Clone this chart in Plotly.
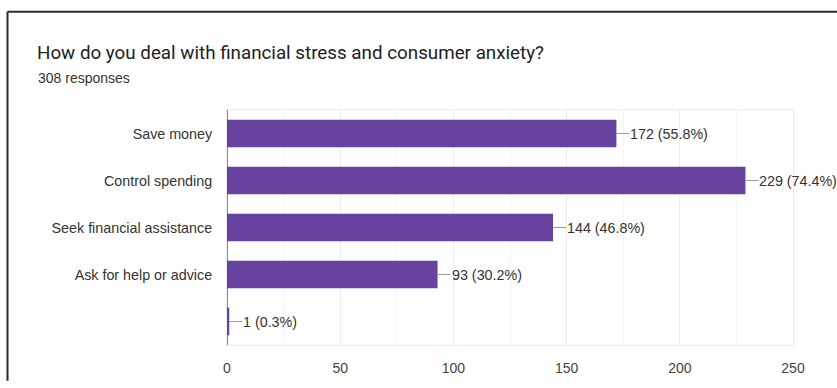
import plotly.graph_objects as go

# Survey answers (horizontal bars, top to bottom)
categories = ["Save money", "Control spending", "Seek financial assistance",
              "Ask for help or advice", ""]
counts = [172, 229, 144, 93, 1]
total_responses = 308
x_ticks = [0, 50, 100, 150, 200, 250]

title_text = "How do you deal with financial stress and consumer anxiety?"
subtitle_text = f"{total_responses} responses"

W, H = 837, 388
ML, MR, MT, MB = 227, 44, 110, 35
PW, PH = W - ML - MR, H - MT - MB

def px_x(px):
    return (px - ML) / PW

def px_y(py):
    return (H - MB - py) / PH

idx = list(range(len(categories)))
bar_color = "#67439f"
label_font = "Liberation Sans, Arial, sans-serif"

fig = go.Figure(go.Bar(
    x=counts, y=idx, orientation="h",
    marker=dict(color=bar_color, line=dict(width=0)),
    hoverinfo="skip",
))

# value labels with a short leader line from the bar end
annotations = []
for i, c in zip(idx, counts):
    pct = c / total_responses * 100
    annotations.append(dict(
        x=c, y=i, xref="x", yref="y",
        text=f"{c} ({pct:.1f}%)",
        showarrow=True, arrowhead=0, arrowwidth=1, arrowcolor="#9a9a9a",
        ax=13, ay=0, xanchor="left", yanchor="middle",
        borderpad=0, standoff=0,
        font=dict(family=label_font, size=14.3, color="#333333"),
    ))

annotations.append(dict(
    x=px_x(36), y=px_y(77), xref="paper", yref="paper",
    text=subtitle_text, showarrow=False, xanchor="left", yanchor="middle",
    font=dict(family=label_font, size=14, color="#333333"),
))

# frame lines on the top and left of the card
shapes = [
    dict(type="line", xref="paper", yref="paper",
         x0=px_x(7.5), x1=px_x(W + 2), y0=px_y(8.5), y1=px_y(8.5),
         line=dict(color="#2a2a2a", width=2)),
    dict(type="line", xref="paper", yref="paper",
         x0=px_x(7.5), x1=px_x(7.5), y0=px_y(8.5), y1=px_y(H + 2),
         line=dict(color="#2a2a2a", width=2)),
]

fig.update_layout(
    width=W, height=H,
    margin=dict(l=ML, r=MR, t=MT, b=MB, pad=0),
    paper_bgcolor="white", plot_bgcolor="white",
    showlegend=False,
    bargap=0.41,
    title=dict(text=title_text, x=37 / W, xref="container", xanchor="left",
               y=1 - 52 / H, yref="container", yanchor="middle",
               font=dict(family="Roboto, Arial, sans-serif", size=18.8, color="#202124")),
    annotations=annotations,
    shapes=shapes,
    xaxis=dict(
        range=[0, 250], tickvals=x_ticks, ticks="outside", ticklen=10,
        tickcolor="rgba(0,0,0,0)",
        showgrid=True, gridcolor="#ececec", gridwidth=1,
        minor=dict(dtick=25, showgrid=True, gridcolor="#f4f4f4", gridwidth=1),
        zeroline=True, zerolinecolor="#8c8c8c", zerolinewidth=1,
        showline=True, linecolor="#ececec", mirror=True,
        tickfont=dict(family=label_font, size=14, color="#444444"),
        fixedrange=True,
    ),
    yaxis=dict(
        tickvals=idx, ticktext=categories, range=[len(categories) - 0.5, -0.5],
        ticks="outside", ticklen=11, tickcolor="rgba(0,0,0,0)",
        showgrid=False, zeroline=False,
        showline=True, linecolor="#ececec", mirror=True,
        tickfont=dict(family=label_font, size=14.3, color="#333333"),
        fixedrange=True,
    ),
)

fig.write_html("out.html", config={"displayModeBar": False})
